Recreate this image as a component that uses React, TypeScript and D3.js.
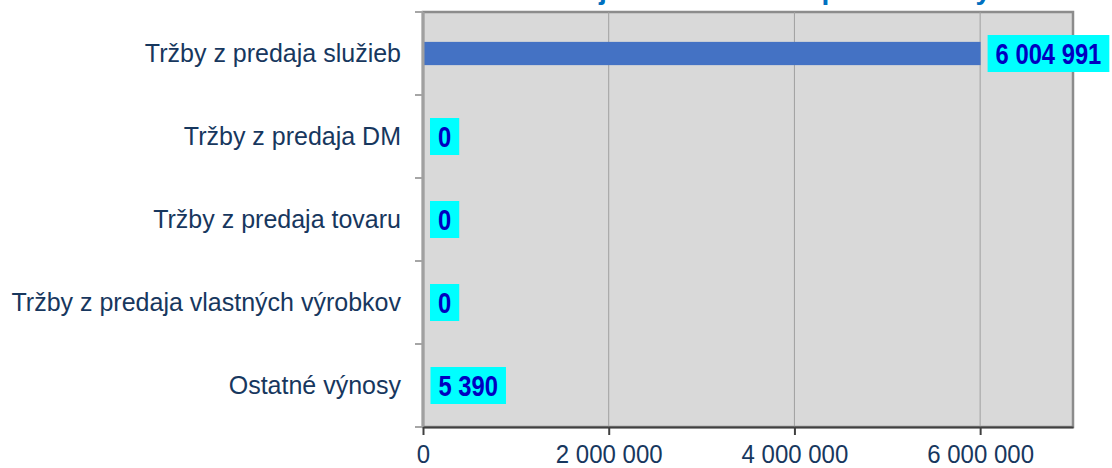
import React, { useRef, useEffect } from "react";
import { select, scaleLinear, scaleBand, axisBottom, axisLeft } from "d3";

const categories = [
  "Tržby z predaja služieb",
  "Tržby z predaja DM",
  "Tržby z predaja tovaru",
  "Tržby z predaja vlastných výrobkov",
  "Ostatné výnosy",
];
const values = [6004991, 0, 0, 0, 5390];
const tickValues = [0, 2000000, 4000000, 6000000];
const title = "Štruktúra tržieb hlavnej činnosti v roku podľa zložky";

const fmt = (v: number) => String(v).replace(/\B(?=(\d{3})+(?!\d))/g, " ");

function App() {
  const svgRef = useRef<SVGSVGElement>(null);

  useEffect(() => {
    const width = 1112;
    const height = 468;
    const left = 423;
    const right = 1073;
    const top = 12;
    const bottom = 427;
    const navy = "#17375e";
    const font = "'Liberation Sans', Arial, sans-serif";

    const svg = select(svgRef.current);
    svg.selectAll("*").remove();
    svg.attr("width", width).attr("height", height);

    const x = scaleLinear().domain([0, 7000000]).range([left, right]);
    const y = scaleBand<string>()
      .domain(categories)
      .range([top, bottom])
      .paddingInner(0.72)
      .paddingOuter(0.36);

    // title - only its lower edge shows at the top, as in the source
    const tt = svg
      .append("text")
      .attr("y", -1)
      .attr("font-family", font)
      .attr("font-weight", "bold")
      .attr("font-size", 28)
      .attr("fill", "#0070c0")
      .text(title);
    const tn = tt.node() as SVGTextElement;
    const jAt = tn.getSubStringLength(0, title.indexOf("j "));
    tt.attr("x", 599 - jAt);

    // plot area
    svg
      .append("rect")
      .attr("x", left)
      .attr("y", top)
      .attr("width", right - left)
      .attr("height", bottom - top)
      .attr("fill", "#d9d9d9")
      .attr("stroke", "#8c8c8c")
      .attr("stroke-width", 2.5);

    // grid
    svg
      .append("g")
      .selectAll("line")
      .data(tickValues.slice(1))
      .join("line")
      .attr("x1", (d) => x(d))
      .attr("x2", (d) => x(d))
      .attr("y1", top)
      .attr("y2", bottom)
      .attr("stroke", "#a0a0a0")
      .attr("stroke-width", 1);

    // category boundary ticks on the left axis
    const step = y.step();
    const bounds = categories.map((_, i) => top + i * step).concat([bottom]);
    svg
      .append("g")
      .selectAll("line")
      .data(bounds)
      .join("line")
      .attr("x1", left - 8)
      .attr("x2", left)
      .attr("y1", (d) => d)
      .attr("y2", (d) => d)
      .attr("stroke", "#a6a6a6")
      .attr("stroke-width", 2);

    // bars
    svg
      .append("g")
      .selectAll("rect")
      .data(values)
      .join("rect")
      .attr("x", x(0))
      .attr("y", (_, i) => y(categories[i]) as number)
      .attr("width", (d) => x(d) - x(0))
      .attr("height", y.bandwidth())
      .attr("fill", "#4472c4");

    // left axis line
    svg
      .append("line")
      .attr("x1", left)
      .attr("x2", left)
      .attr("y1", top)
      .attr("y2", bottom)
      .attr("stroke", "#a0a0a0")
      .attr("stroke-width", 3);

    // category labels
    const yAxis = axisLeft(y).tickSize(0).tickPadding(22);
    const gy = svg.append("g").attr("transform", `translate(${left},0)`).call(yAxis);
    gy.select(".domain").remove();
    gy.selectAll("text")
      .attr("font-family", font)
      .attr("font-size", 25)
      .attr("fill", navy);

    // bottom axis
    const xAxis = axisBottom(x)
      .tickValues(tickValues)
      .tickSize(8)
      .tickSizeOuter(0)
      .tickPadding(10)
      .tickFormat((d) => fmt(d as number));
    const gx = svg.append("g").attr("transform", `translate(0,${bottom})`).call(xAxis);
    gx.select(".domain").attr("stroke", "#404040").attr("stroke-width", 2);
    gx.selectAll(".tick line").attr("stroke", "#404040").attr("stroke-width", 2);
    gx.selectAll("text")
      .attr("y", 36)
      .attr("dy", null)
      .attr("font-family", font)
      .attr("font-size", 25)
      .attr("transform", "scale(0.96,1)")
      .attr("fill", navy);

    // value labels in cyan boxes (narrow bold text)
    const sx = 0.82;
    const labels = svg.append("g");
    values.forEach((v, i) => {
      const cy = (y(categories[i]) as number) + y.bandwidth() / 2;
      const g = labels.append("g");
      const rect = g.append("rect").attr("fill", "#00ffff");
      const t = g
        .append("text")
        .attr("transform", `translate(${x(v) + 15},${cy}) scale(${sx},1)`)
        .attr("dy", "0.36em")
        .attr("font-family", font)
        .attr("font-weight", "bold")
        .attr("font-size", 29)
        .attr("fill", "#0000c0")
        .text(fmt(v));
      const w = (t.node() as SVGTextElement).getComputedTextLength() * sx;
      rect
        .attr("x", x(v) + 7)
        .attr("y", cy - 18.5)
        .attr("width", w + 16)
        .attr("height", 37);
    });
  }, []);

  return (
    <svg
      ref={svgRef}
      style={{ position: "absolute", left: 0, top: 0, display: "block" }}
    />
  );
}

export default App;
